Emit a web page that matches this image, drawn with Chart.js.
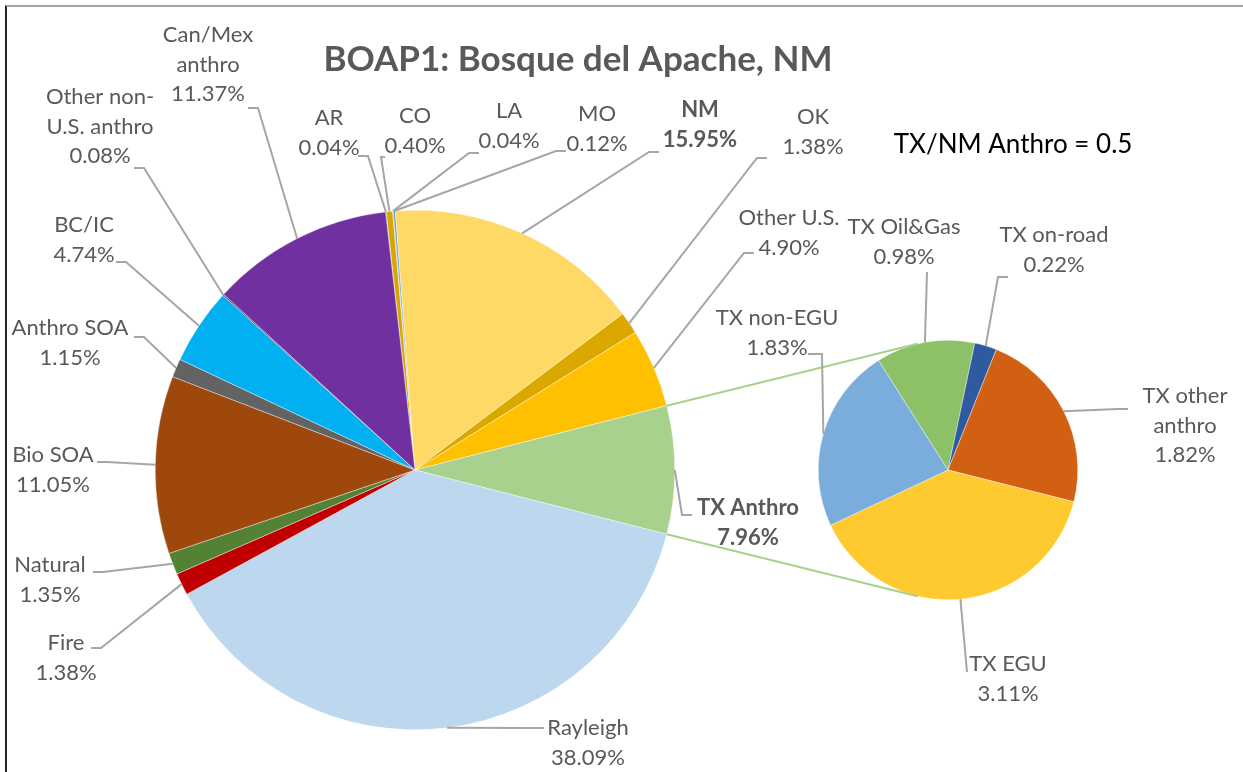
<!DOCTYPE html>
<html><head><meta charset="utf-8">
<script src="https://cdn.jsdelivr.net/npm/chart.js@4.4.0/dist/chart.umd.min.js"></script>
<style>
html,body{margin:0;padding:0;background:#fff;}
#wrap{position:relative;width:1243px;height:772px;overflow:hidden;background:#fff;}
#frame{position:absolute;left:5px;top:5px;width:1250px;height:780px;border-top:2px solid #a6a6a6;border-left:2px solid #262626;}
canvas{position:absolute;left:0;top:0;}
</style></head><body>
<div id="wrap"><div id="frame"></div><canvas id="c1" width="1243" height="772"></canvas><canvas id="c2" width="1243" height="772"></canvas></div>
<script>
// ---------------- data ----------------
const chartTitle = 'BOAP1: Bosque del Apache, NM';
const ratioText = 'TX/NM Anthro = 0.5';
const mainCategories = ['AR','CO','LA','MO','NM','OK','Other U.S.','TX Anthro','Rayleigh','Fire','Natural','Bio SOA','Anthro SOA','BC/IC','Other non-U.S. anthro','Can/Mex anthro'];
const mainValues = [0.04,0.40,0.04,0.12,15.95,1.38,4.90,7.96,38.09,1.38,1.35,11.05,1.15,4.74,0.08,11.37];
const txCategories = ['TX Oil&Gas','TX on-road','TX other anthro','TX EGU','TX non-EGU'];
const txValues = [0.98,0.22,1.82,3.11,1.83];
const splitCategory = 'TX Anthro';

// ---------------- styles / layout ----------------
const mainColors = ['#4472c4','#d9a600','#a5a5a5','#5b9bd5','#ffd966','#dba800','#ffc000','#a9d18e','#bdd7ee','#c00000','#548235','#9e480e','#636363','#00b0f0','#264478','#7030a0'];
const txColors = ['#8cc168','#2f5aa0','#d26012','#ffca2f','#7aaddc'];
const FONT = 'Lato, "Open Sans", sans-serif';
const LABEL_SIZE = 22, LINE_H = 29.5;
// x = text centre, y = first line middle, a = leader anchor near text, el = elbow length
const mainLabelLayout = [
  {x:329,y:118,wrap:['AR'],a:[358,156],el:10},
  {x:415,y:116,wrap:['CO'],a:[385,157],el:-4},
  {x:509,y:111,wrap:['LA'],a:[479,153],el:-10},
  {x:597,y:114,wrap:['MO'],a:[566,151],el:-10},
  {x:700,y:110,wrap:['NM'],a:[659,152],el:-10,bold:true},
  {x:813,y:117,wrap:['OK'],a:[767,158],el:-10},
  {x:789,y:218,wrap:['Other U.S.'],a:[754,253],el:-10},
  {x:748,y:508,wrap:['TX Anthro'],a:[692,515],el:-10,bold:true},
  {x:588,y:728,wrap:['Rayleigh'],a:[544,728],el:-10},
  {x:66,y:643,wrap:['Fire'],a:[91,648],el:10},
  {x:50,y:565,wrap:['Natural'],a:[93,572],el:10},
  {x:53,y:455,wrap:['Bio SOA'],a:[97,462],el:10},
  {x:70,y:328,wrap:['Anthro SOA'],a:[134,337],el:10},
  {x:84,y:225,wrap:['BC/IC'],a:[116,262],el:10},
  {x:100,y:97,wrap:['Other non-','U.S. anthro'],a:[134,168],el:10},
  {x:208,y:35,wrap:['Can/Mex','anthro'],a:[248,108],el:10}
];
const txLabelLayout = [
  {x:904,y:227,wrap:['TX Oil&Gas'],a:[927,272],el:0},
  {x:1054,y:235,wrap:['TX on-road'],a:[1008,277],el:-10},
  {x:1185,y:396,wrap:['TX other','anthro'],a:[1128,409],el:-10},
  {x:1008,y:664,wrap:['TX EGU'],a:[967,672],el:0},
  {x:777,y:318,wrap:['TX non-EGU'],a:[808,354],el:14}
];

// rotation so that the split slice faces 3 o'clock
const splitIdx = mainCategories.indexOf(splitCategory);
const totalMain = mainValues.reduce((s,v)=>s+v,0);
const before = mainValues.slice(0,splitIdx).reduce((s,v)=>s+v,0);
const mainRotation = 90 - (before + mainValues[splitIdx]/2)/totalMain*360;
const txRotation = -32.4;
const CONNECT_DEG = 13.6;

function drawLabels(chart, layout, values){
  const ctx = chart.ctx;
  const meta = chart.getDatasetMeta(0);
  ctx.save();
  layout.forEach((L,i)=>{
    const arc = meta.data[i];
    const mid = (arc.startAngle + arc.endAngle)/2;
    const px = arc.x + arc.outerRadius*Math.cos(mid);
    const py = arc.y + arc.outerRadius*Math.sin(mid);
    ctx.strokeStyle = '#a6a6a6';
    ctx.lineWidth = 2;
    ctx.beginPath();
    ctx.moveTo(L.a[0], L.a[1]);
    ctx.lineTo(L.a[0]+L.el, L.a[1]);
    ctx.lineTo(px, py);
    ctx.stroke();
    const lines = L.wrap.concat([values[i].toFixed(2)+'%']);
    ctx.fillStyle = '#595959';
    ctx.font = (L.bold?'bold ':'') + LABEL_SIZE + 'px ' + FONT;
    ctx.textAlign = 'center';
    ctx.textBaseline = 'middle';
    lines.forEach((t,k)=>ctx.fillText(t, L.x, L.y + k*LINE_H));
  });
  ctx.restore();
}

const mainPlugin = {
  id:'mainLabels',
  afterDraw(chart){
    drawLabels(chart, mainLabelLayout, mainValues);
    const ctx = chart.ctx;
    ctx.save();
    ctx.fillStyle = '#595959';
    ctx.font = 'bold 35px ' + FONT;
    ctx.textAlign = 'center';
    ctx.textBaseline = 'middle';
    ctx.fillText(chartTitle, 578, 60);
    ctx.fillStyle = '#000000';
    ctx.font = '26px ' + FONT;
    ctx.fillText(ratioText, 1013, 145);
    ctx.restore();
  }
};

const chart1 = new Chart(document.getElementById('c1'), {
  type:'pie',
  data:{labels:mainCategories, datasets:[{data:mainValues, backgroundColor:mainColors, borderColor:'#ffffff', borderWidth:0.4}]},
  options:{
    responsive:false, animation:false, devicePixelRatio:1, events:[],
    rotation: mainRotation,
    layout:{padding:{left:155,right:568,top:210,bottom:42}},
    plugins:{legend:{display:false}, tooltip:{enabled:false}, title:{display:false}}
  },
  plugins:[mainPlugin]
});

const txPlugin = {
  id:'txLabels',
  afterDraw(chart){
    const ctx = chart.ctx;
    // connector lines from the split slice to the secondary pie
    const a = chart1.getDatasetMeta(0).data[splitIdx];
    const b = chart.getDatasetMeta(0).data[0];
    const r2 = b.outerRadius;
    const up = -Math.PI/2 - CONNECT_DEG*Math.PI/180;
    const dn = Math.PI/2 + CONNECT_DEG*Math.PI/180;
    ctx.save();
    ctx.strokeStyle = '#a9d18e';
    ctx.lineWidth = 2;
    ctx.beginPath();
    ctx.moveTo(a.x + a.outerRadius*Math.cos(a.startAngle), a.y + a.outerRadius*Math.sin(a.startAngle));
    ctx.lineTo(b.x + r2*Math.cos(up), b.y + r2*Math.sin(up));
    ctx.moveTo(a.x + a.outerRadius*Math.cos(a.endAngle), a.y + a.outerRadius*Math.sin(a.endAngle));
    ctx.lineTo(b.x + r2*Math.cos(dn), b.y + r2*Math.sin(dn));
    ctx.stroke();
    ctx.restore();
    drawLabels(chart, txLabelLayout, txValues);
  }
};

const chart2 = new Chart(document.getElementById('c2'), {
  type:'pie',
  data:{labels:txCategories, datasets:[{data:txValues, backgroundColor:txColors, borderColor:'#ffffff', borderWidth:0.4}]},
  options:{
    responsive:false, animation:false, devicePixelRatio:1, events:[],
    rotation: txRotation,
    layout:{padding:{left:818,right:165,top:340,bottom:172}},
    plugins:{legend:{display:false}, tooltip:{enabled:false}, title:{display:false}}
  },
  plugins:[txPlugin]
});
</script>
</body></html>
